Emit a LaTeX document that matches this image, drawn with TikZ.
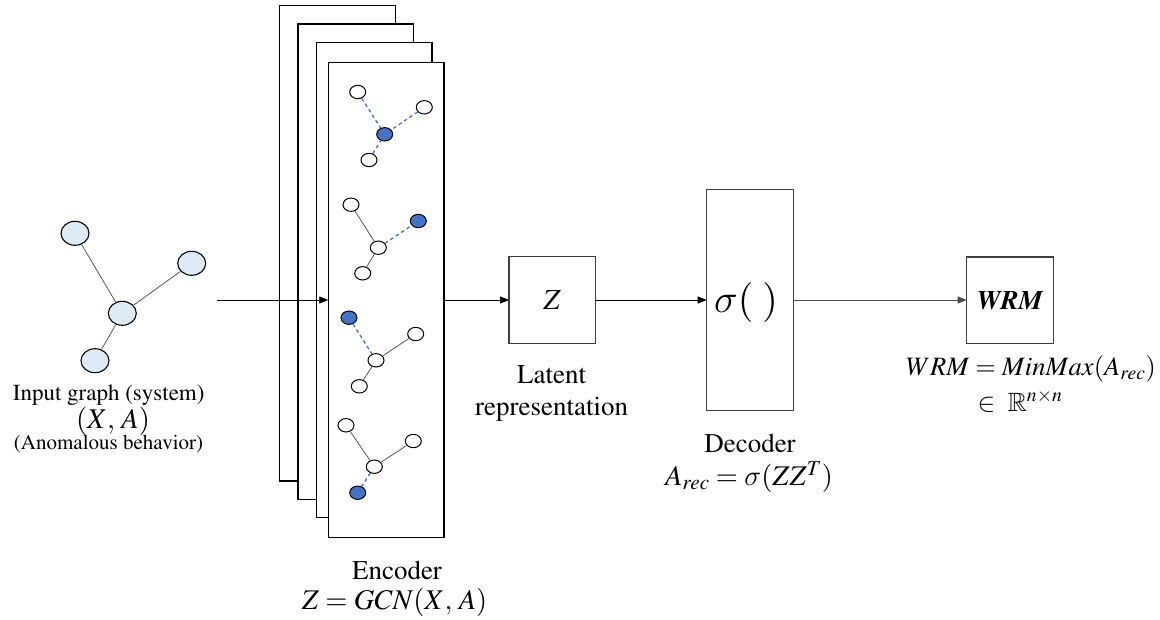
\RequirePackage{fix-cm}
\documentclass[tikz,border=0pt]{standalone}
\usepackage[T1]{fontenc}
\usepackage{amsmath,amssymb}
\usepackage{mathptmx}
\usetikzlibrary{arrows.meta,shapes.geometric}
% slanted sigma taken from the Computer Modern letters
\DeclareSymbolFont{cmletters}{OML}{cmm}{m}{it}
\DeclareMathSymbol{\slsigma}{\mathord}{cmletters}{"1B}
\definecolor{nodefill}{HTML}{DEEBF7}
\definecolor{hotblue}{HTML}{4472C4}
\definecolor{boxline}{HTML}{404040}
\begin{document}
\begin{tikzpicture}[x=1pt,y=-1pt,
  sheet/.style={draw=black, line width=1.3pt, fill=white, minimum width=115.7pt,
    minimum height=475.4pt, anchor=north west, inner sep=0pt, outer sep=0pt},
  blockbox/.style={draw=boxline, line width=1.3pt, fill=white, inner sep=0pt, outer sep=0pt},
  bignode/.style={ellipse, draw=black, line width=1.1pt, fill=nodefill,
    minimum width=28pt, minimum height=24pt, inner sep=0pt},
  smallnode/.style={ellipse, draw=black, line width=1pt, fill=white,
    minimum width=16pt, minimum height=13.4pt, inner sep=0pt},
  hotnode/.style={smallnode, fill=hotblue},
  link/.style={draw=black!65, line width=0.8pt},
  hotlink/.style={draw=hotblue, line width=1.3pt, dash pattern=on 3.5pt off 3pt},
  flow/.style={draw=black, line width=0.8pt, -{Triangle[length=9pt,width=7pt]}},
  lbl/.style={inner sep=0pt, align=center},
  fA/.style={font=\fontsize{27}{32}\selectfont},
  fB/.style={font=\fontsize{23}{27}\selectfont},
  fC/.style={font=\fontsize{21}{25}\selectfont},
  fM/.style={font=\fontsize{28.5}{33}\selectfont},
  fW/.style={font=\fontsize{26.5}{31}\selectfont},
]
\useasboundingbox (0,0) rectangle (1160,619);

% ---------- input graph ----------
\node[bignode] (g1) at (75,233.3) {};
\node[bignode] (g2) at (191.7,263.3) {};
\node[bignode] (g3) at (122.3,313.3) {};
\node[bignode] (g4) at (95,360.7) {};
\draw[link] (g1) -- (g3);
\draw[link] (g2) -- (g3);
\draw[link] (g4) -- (g3);

\node[lbl,fB] (inlbl) at (108.7,395) {Input graph (system)};
\node[lbl,fM] (inxa) at (113,421) {$(X,\,A)$};
\node[lbl,fC] (inan) at (108.5,444) {(Anomalous behavior)};

% ---------- stacked encoder sheets ----------
\node[sheet] (f1) at (279.7,5.7) {};
\node[sheet] (f2) at (298,24) {};
\node[sheet] (f3) at (316.3,42.3) {};
\node[sheet] (f4) at (328.3,62.3) {};

% graph A
\node[smallnode] (a1) at (357.7,92) {};
\node[smallnode] (a2) at (424.3,107.3) {};
\node[hotnode]   (a3) at (384.7,134.3) {};
\node[smallnode] (a4) at (369,160) {};
\draw[hotlink] (a1) -- (a3);
\draw[hotlink] (a2) -- (a3);
\draw[hotlink] (a4) -- (a3);

% graph B
\node[smallnode] (b1) at (351,204.7) {};
\node[hotnode]   (b2) at (418.3,221) {};
\node[smallnode] (b3) at (378.3,247.7) {};
\node[smallnode] (b4) at (362.7,273.3) {};
\draw[link] (b1) -- (b3);
\draw[hotlink] (b3) -- (b2);
\draw[link] (b3) -- (b4);

% graph C
\node[hotnode]   (c1) at (349,317.7) {};
\node[smallnode] (c2) at (415.7,334) {};
\node[smallnode] (c3) at (376,360.3) {};
\node[smallnode] (c4) at (359.3,386.3) {};
\draw[hotlink] (c1) -- (c3);
\draw[link] (c3) -- (c2);
\draw[link] (c3) -- (c4);

% graph D
\node[smallnode] (d1) at (346,425.3) {};
\node[smallnode] (d2) at (413.3,441) {};
\node[smallnode] (d3) at (374.3,466.7) {};
\node[hotnode]   (d4) at (357.7,492.7) {};
\draw[link] (d1) -- (d3);
\draw[link] (d3) -- (d2);
\draw[hotlink] (d3) -- (d4);

\node[lbl,fA] (enc) at (397,570) {Encoder};
\node[lbl,fM] (encf) at (394.5,602) {$Z = GCN(X,\,A)$};

% ---------- latent, decoder, output ----------
\node[blockbox, minimum width=86.3pt, minimum height=86.6pt] (zbox) at (552.2,300) {\fontsize{29}{34}\selectfont$Z$};
\node[lbl,fA] (lat1) at (551.7,375) {Latent};
\node[lbl,fA] (lat2) at (551.7,409) {representation};

\node[blockbox, minimum width=86.6pt, minimum height=221.4pt] (dec) at (750,300) {};
\node[lbl,font=\fontsize{40}{46}\selectfont] (sig) at (746,302) {$\slsigma(\;)$};
\node[lbl,fA] (declbl) at (750,443) {Decoder};
\node[lbl,fM] (decf) at (749,477) {$A_{rec} = \slsigma(ZZ^T)$};

\node[blockbox, minimum width=86.6pt, minimum height=86.3pt] (wrm) at (1010,300) {\fontsize{27}{32}\selectfont\textbf{\textit{WRM}}};
\node[lbl,fW] (wrmf) at (1031,369) {$WRM = MinMax(A_{rec})$};
\node[lbl,fW] (wrmr) at (1020,401) {$\in\ \mathbb{R}^{n\times n}$};

% ---------- flow arrows ----------
\coordinate (src) at (217,300);
\draw[flow] (src) -- (f4.west);
\draw[flow] (f4.east) -- (zbox.west);
\draw[flow] (zbox.east) -- (dec.west);
\draw[flow, draw=black!70] (dec.east) -- (wrm.west);
\end{tikzpicture}
\end{document}
